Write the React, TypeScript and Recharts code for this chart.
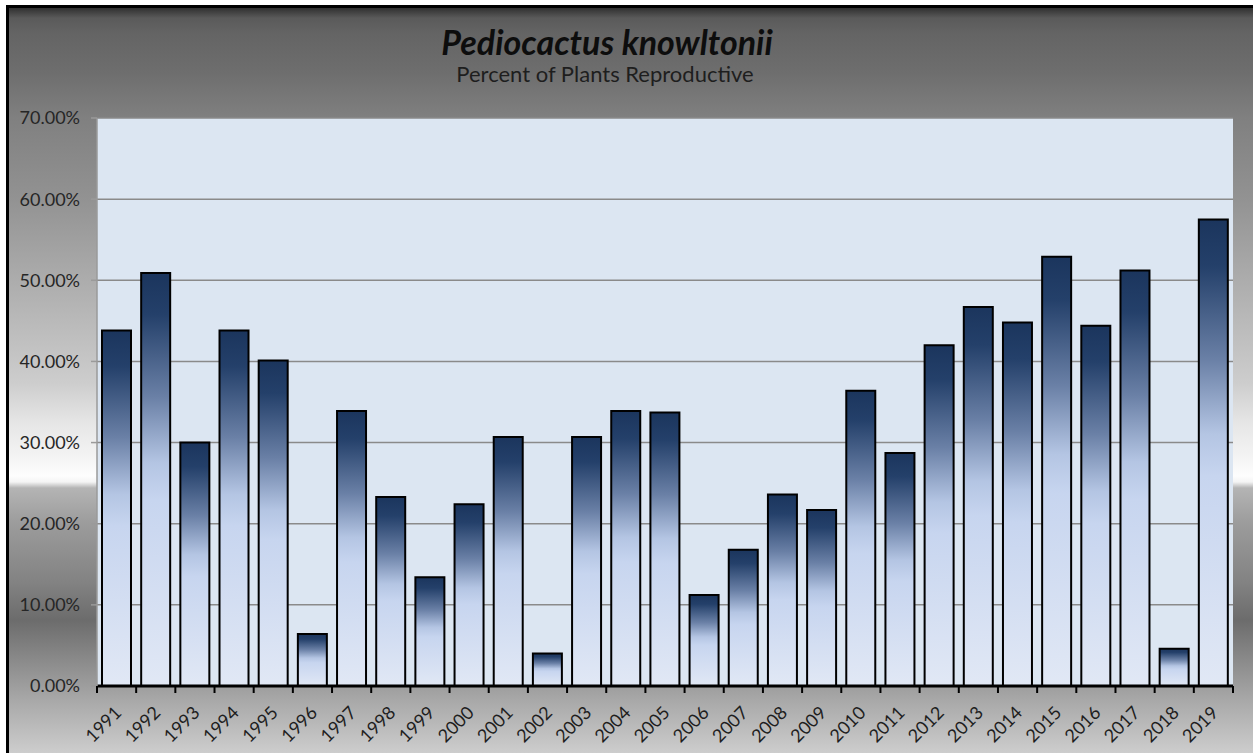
import React from 'react';
import { BarChart, Bar, XAxis, YAxis, CartesianGrid } from 'recharts';

const years = ['1991','1992','1993','1994','1995','1996','1997','1998','1999','2000','2001','2002','2003','2004','2005','2006','2007','2008','2009','2010','2011','2012','2013','2014','2015','2016','2017','2018','2019'];
const reproductivePct = [43.8, 50.9, 30.0, 43.8, 40.1, 6.4, 33.9, 23.3, 13.4, 22.4, 30.7, 4.0, 30.7, 33.9, 33.7, 11.2, 16.8, 23.6, 21.7, 36.4, 28.7, 42.0, 46.7, 44.8, 52.9, 44.4, 51.2, 4.6, 57.5];
const yTicks = [0, 10, 20, 30, 40, 50, 60, 70];
const titleText = 'Pediocactus knowltonii';
const subtitleText = 'Percent of Plants Reproductive';

const data = years.map((y, i) => ({ year: y, pct: reproductivePct[i] }));

const W = 1253;
const H = 753;
const M_TOP = 118;
const M_RIGHT = 20;
const Y_W = 97;
const X_H = 67;
const PLOT_W = W - M_RIGHT - Y_W;
const STEP = PLOT_W / years.length;
const AXIS_Y = H - X_H;
const FONT = 'Lato, "Open Sans", sans-serif';

const XTick = (props: any) => {
  const { x, payload, index } = props;
  const tx = x + 1;
  const ty = AXIS_Y + 23;
  const last = index === years.length - 1;
  return (
    <g>
      <line x1={x - STEP / 2} y1={AXIS_Y} x2={x - STEP / 2} y2={AXIS_Y + 7} stroke="#000" strokeWidth={2} />
      {last && <line x1={x + STEP / 2} y1={AXIS_Y} x2={x + STEP / 2} y2={AXIS_Y + 7} stroke="#000" strokeWidth={2} />}
      <text
        x={tx}
        y={ty}
        transform={`rotate(-45 ${tx} ${ty})`}
        textAnchor="end"
        dominantBaseline="central"
        fontFamily={FONT}
        fontSize={18}
        fill="#1e1e1e"
      >
        {payload.value}
      </text>
    </g>
  );
};

const bgGradient =
  'linear-gradient(to bottom, #303030 0px, #5a5a5a 10px, #646464 25px, #6e6e6e 65px, #808080 110px, #929292 190px, #b2b2b2 290px, #cdcdcd 375px, #e6e6e6 415px, #f2f2f2 445px, #fdfdfd 468px, #f4f4f4 474px, #b4b4b4 480px, #9c9c9c 515px, #828282 575px, #6c6c6c 612px, #8a8a8a 652px, #a8a8a8 692px, #c6c6c6 735px, #d8d8d8 760px)';

export default function App() {
  return (
    <div style={{ position: 'absolute', left: 0, top: 0, width: W, height: H, overflow: 'hidden', background: '#fff' }}>
      <div
        style={{
          position: 'absolute',
          left: 6,
          top: 5,
          width: 1300,
          height: 800,
          border: '3px solid #000',
          boxSizing: 'border-box',
          background: bgGradient,
        }}
      />
      <div style={{ position: 'absolute', left: 0, top: 0 }}>
        <BarChart
          width={W}
          height={H}
          data={data}
          margin={{ top: M_TOP, right: M_RIGHT, bottom: 0, left: 0 }}
          barSize={29}
        >
          <defs>
            <linearGradient id="barGrad" x1="0" y1="0" x2="0" y2="1">
              <stop offset="0" stopColor="#1b355d" />
              <stop offset="0.1" stopColor="#24406a" />
              <stop offset="0.3" stopColor="#6a80a6" />
              <stop offset="0.46" stopColor="#b4c5e3" />
              <stop offset="0.55" stopColor="#c7d5ef" />
              <stop offset="1" stopColor="#e1e8f5" />
            </linearGradient>
          </defs>
          <CartesianGrid
            vertical={false}
            fill="#dce6f2"
            fillOpacity={1}
            stroke="#8a8a8a"
            strokeWidth={1.5}
          />
          <XAxis
            dataKey="year"
            height={X_H}
            interval={0}
            tick={<XTick />}
            tickLine={false}
            axisLine={{ stroke: '#000', strokeWidth: 3 }}
          />
          <YAxis
            width={Y_W}
            domain={[0, 70]}
            ticks={yTicks}
            interval={0}
            tickFormatter={(v: number) => v.toFixed(2) + '%'}
            tick={{ fontFamily: FONT, fontSize: 18, fill: '#262626' }}
            tickSize={6}
            tickMargin={11}
            tickLine={{ stroke: '#9a9a9a', strokeWidth: 1.5 }}
            axisLine={{ stroke: '#9a9a9a', strokeWidth: 1.5 }}
          />
          <Bar dataKey="pct" fill="url(#barGrad)" stroke="#000" strokeWidth={2} isAnimationActive={false} />
        </BarChart>
      </div>
      <svg width={W} height={H} style={{ position: 'absolute', left: 0, top: 0, pointerEvents: 'none' }}>
        <text x={607} y={55} textAnchor="middle" fontFamily={FONT} fontSize={34} fontWeight="bold" fontStyle="italic" fill="#0d0d0d">
          {titleText}
        </text>
        <text x={605} y={82} textAnchor="middle" fontFamily={FONT} fontSize={22} fill="#1e1e1e">
          {subtitleText}
        </text>
      </svg>
    </div>
  );
}
